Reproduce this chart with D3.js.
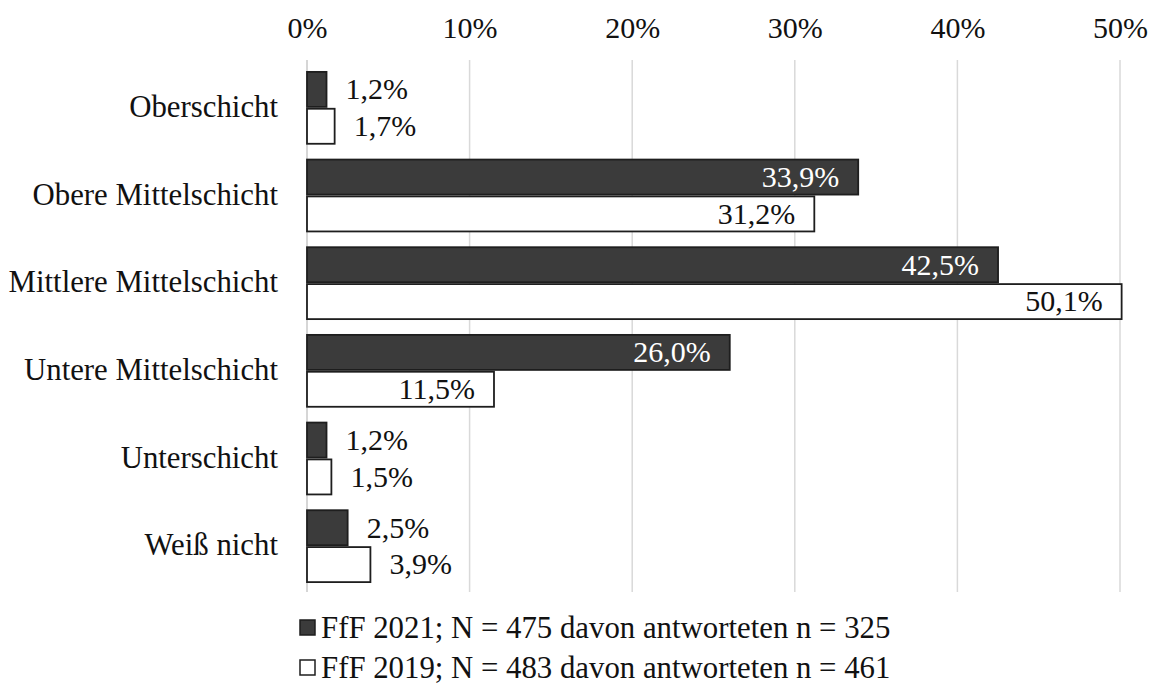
<!DOCTYPE html>
<html><head><meta charset="utf-8">
<script src="https://cdn.jsdelivr.net/npm/d3@7"></script>
<style>body{margin:0;background:#fff}svg{display:block}text{font-family:"Liberation Serif","Times New Roman",serif}</style>
</head><body><svg id="c" width="1151" height="692"></svg>
<script>
const categories = ["Oberschicht","Obere Mittelschicht","Mittlere Mittelschicht","Untere Mittelschicht","Unterschicht","Weiß nicht"];
const values2021 = [1.2, 33.9, 42.5, 26.0, 1.2, 2.5];
const values2019 = [1.7, 31.2, 50.1, 11.5, 1.5, 3.9];
const tickValues = [0,10,20,30,40,50];
const seriesNames = ["FfF 2021; N = 475 davon antworteten n = 325","FfF 2019; N = 483 davon antworteten n = 461"];

const svg = d3.select("#c");
const x = d3.scaleLinear().domain([0,50]).range([307,1120]);
const y = d3.scaleBand().domain(categories).range([64,590]).paddingInner(0.18).paddingOuter(0.09);
const fs = 30;
const fsBig = 30.8;
const fmt = v => d3.format(".1f")(v).replace(".", ",") + "%";

// gridlines
svg.append("g").selectAll("line").data(tickValues.slice(1)).join("line")
  .attr("x1", d=>x(d)).attr("x2", d=>x(d)).attr("y1", 60).attr("y2", 592)
  .attr("stroke", "#d9d9d9").attr("stroke-width", 1.5);
svg.append("line").attr("x1", x(0)).attr("x2", x(0)).attr("y1", 60).attr("y2", 592)
  .attr("stroke", "#c8c8c8").attr("stroke-width", 1.5);

// top axis
const ax = d3.axisTop(x).tickValues(tickValues).tickFormat(d=>d+"%").tickSize(0).tickPadding(0);
const axg = svg.append("g").attr("transform","translate(0,38)").call(ax);
axg.select(".domain").remove();
axg.selectAll("text").attr("font-size", fs).attr("fill","#111").attr("font-family","Liberation Serif").attr("dy","0");

// category labels
const yg = svg.append("g").attr("transform","translate(278,0)").call(d3.axisLeft(y).tickSize(0).tickPadding(0));
yg.select(".domain").remove();
yg.selectAll("text").attr("font-size", fsBig).attr("fill","#111").attr("font-family","Liberation Serif").attr("dy","0.3em");

const sub = d3.scaleBand().domain([0,1]).range([0, y.bandwidth()]).paddingInner(0.05);
const series = [values2021, values2019];
const fills = ["#3b3b3b", "#ffffff"];
series.forEach((vals, si) => {
  const g = svg.append("g");
  g.selectAll("rect").data(vals).join("rect")
    .attr("x", x(0)).attr("y", (d,i)=>y(categories[i]) + sub(si))
    .attr("width", d=>x(d)-x(0)).attr("height", sub.bandwidth())
    .attr("fill", fills[si]).attr("stroke", "#1e1e1e").attr("stroke-width", 1.8);
  g.selectAll("text").data(vals).join("text")
    .attr("font-size", fs)
    .attr("y", (d,i)=>y(categories[i]) + sub(si) + sub.bandwidth()/2)
    .attr("dy","0.33em")
    .attr("x", d => d > 5 ? x(d) - 19 : x(d) + 19)
    .attr("text-anchor", d => d > 5 ? "end" : "start")
    .attr("fill", d => (d > 5 && si===0) ? "#ffffff" : "#111")
    .text(fmt);
});

// legend
const lg = svg.append("g");
seriesNames.forEach((n, i) => {
  const cy = 628 + i*40;
  lg.append("rect").attr("x", 300).attr("y", cy-8).attr("width", 15).attr("height", 15)
    .attr("fill", fills[i]).attr("stroke", "#1e1e1e").attr("stroke-width", 1.5);
  lg.append("text").attr("x", 321).attr("y", cy).attr("dy","0.33em").attr("font-size", fsBig).attr("fill","#111").text(n);
});
</script></body></html>
